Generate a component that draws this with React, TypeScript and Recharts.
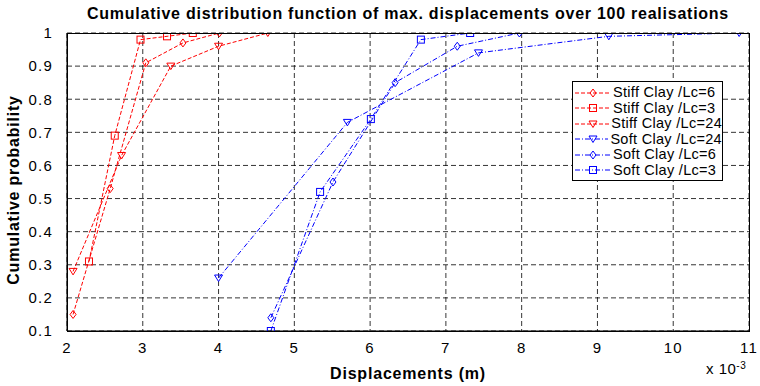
import React from 'react'
import {
  LineChart,
  Line,
  XAxis,
  YAxis,
  CartesianGrid,
} from 'recharts'

// displacement values are in units of 1e-3 m
const stiffLc6X = [2.08, 2.57, 3.04, 3.53, 4.01]
const stiffLc6Y = [0.15, 0.53, 0.91, 0.97, 1.0]

const stiffLc3X = [2.29, 2.63, 2.97, 3.32, 3.66]
const stiffLc3Y = [0.31, 0.69, 0.98, 0.99, 1.0]

const stiffLc24X = [2.08, 2.72, 3.37, 4.0, 4.65]
const stiffLc24Y = [0.28, 0.63, 0.9, 0.96, 1.0]

const softLc24X = [4.0, 5.7, 7.43, 9.15, 10.87]
const softLc24Y = [0.26, 0.73, 0.94, 0.99, 1.0]

const softLc6X = [4.69, 5.51, 6.33, 7.15, 7.97]
const softLc6Y = [0.14, 0.55, 0.85, 0.96, 1.0]

const softLc3X = [4.69, 5.34, 6.01, 6.67, 7.32]
const softLc3Y = [0.1, 0.52, 0.74, 0.98, 1.0]

const xTicks = [2, 3, 4, 5, 6, 7, 8, 9, 10, 11]
const yTicks = [0.1, 0.2, 0.3, 0.4, 0.5, 0.6, 0.7, 0.8, 0.9, 1]

const FONT = '"Liberation Sans", Arial, Helvetica, sans-serif'
const RED = '#ff0000'
const BLUE = '#0000ff'
const RED_DASH = '4 2'
const BLUE_DASH = '5 2 1 2'

type MarkerKind = 'diamond' | 'square' | 'triangle'

const zip = (xs: number[], ys: number[]) => xs.map((x, i) => ({ x, y: ys[i] }))

const series = [
  { name: 'Stiff Clay /Lc=6', data: zip(stiffLc6X, stiffLc6Y), color: RED, dash: RED_DASH, marker: 'diamond' as MarkerKind },
  { name: 'Stiff Clay /Lc=3', data: zip(stiffLc3X, stiffLc3Y), color: RED, dash: RED_DASH, marker: 'square' as MarkerKind },
  { name: 'Stiff Clay /Lc=24', data: zip(stiffLc24X, stiffLc24Y), color: RED, dash: RED_DASH, marker: 'triangle' as MarkerKind },
  { name: 'Soft Clay /Lc=24', data: zip(softLc24X, softLc24Y), color: BLUE, dash: BLUE_DASH, marker: 'triangle' as MarkerKind },
  { name: 'Soft Clay /Lc=6', data: zip(softLc6X, softLc6Y), color: BLUE, dash: BLUE_DASH, marker: 'diamond' as MarkerKind },
  { name: 'Soft Clay /Lc=3', data: zip(softLc3X, softLc3Y), color: BLUE, dash: BLUE_DASH, marker: 'square' as MarkerKind },
]

function Marker({ cx, cy, kind, color }: { cx: number; cy: number; kind: MarkerKind; color: string }) {
  if (kind === 'square') {
    return <rect x={cx - 3.5} y={cy - 3.5} width={7} height={7} fill="none" stroke={color} strokeWidth={1} />
  }
  if (kind === 'diamond') {
    return (
      <polygon
        points={`${cx},${cy - 4} ${cx + 3},${cy} ${cx},${cy + 4} ${cx - 3},${cy}`}
        fill="none"
        stroke={color}
        strokeWidth={1}
      />
    )
  }
  return (
    <polygon
      points={`${cx - 4},${cy - 3} ${cx + 4},${cy - 3} ${cx},${cy + 3.5}`}
      fill="none"
      stroke={color}
      strokeWidth={1}
    />
  )
}

function LegendBox() {
  return (
    <div
      style={{
        position: 'absolute',
        left: 572,
        top: 81,
        width: 151,
        height: 100,
        boxSizing: 'border-box',
        border: '1px solid #000',
        background: '#fff',
        padding: '3px 0 0 2px',
        fontFamily: FONT,
        fontSize: 14.5,
        letterSpacing: 0.3,
        lineHeight: '15.5px',
      }}
    >
      {series.map((s) => (
        <div key={s.name} style={{ display: 'flex', alignItems: 'center', whiteSpace: 'nowrap' }}>
          <svg width={36} height={12} style={{ marginRight: 2 }}>
            <line x1={0} y1={6} x2={36} y2={6} stroke={s.color} strokeDasharray={s.dash} />
            <Marker cx={18} cy={6} kind={s.marker} color={s.color} />
          </svg>
          <span>{s.name}</span>
        </div>
      ))}
    </div>
  )
}

const tickStyle = { fontSize: 15, fill: '#000', fontFamily: FONT, letterSpacing: 1.2 }

export default function App() {
  return (
    <div style={{ position: 'absolute', left: 0, top: 0, width: 760, height: 386, background: '#fff', fontFamily: FONT }}>
      <div
        style={{
          position: 'absolute',
          left: 0,
          width: 816,
          top: 5,
          textAlign: 'center',
          fontWeight: 'bold',
          fontSize: 16,
          letterSpacing: 0.75,
          whiteSpace: 'nowrap',
          color: '#000',
        }}
      >
        Cumulative distribution function of max. displacements over 100 realisations
      </div>
      <LineChart width={760} height={386} margin={{ top: 33, right: 11, bottom: 25, left: 0 }}>
        <CartesianGrid stroke="#000" strokeDasharray="5 3" strokeWidth={0.8} />
        <XAxis
          type="number"
          dataKey="x"
          domain={[2, 11]}
          ticks={xTicks}
          allowDataOverflow
          height={30}
          tickLine={false}
          tickMargin={5}
          axisLine={{ stroke: '#000' }}
          tick={tickStyle}
        />
        <YAxis
          type="number"
          dataKey="y"
          domain={[0.1, 1]}
          ticks={yTicks}
          allowDataOverflow
          width={67}
          tickLine={false}
          tickMargin={8}
          axisLine={{ stroke: '#000' }}
          tick={tickStyle}
          tickFormatter={(v: number) => (v === 1 ? '1' : v.toFixed(1))}
        />
        {series.map((s) => (
          <Line
            key={s.name}
            name={s.name}
            data={s.data}
            dataKey="y"
            type="linear"
            stroke={s.color}
            strokeWidth={1}
            strokeDasharray={s.dash}
            isAnimationActive={false}
            dot={(p: any) => <Marker key={`${s.name}-${p.index}`} cx={p.cx} cy={p.cy} kind={s.marker} color={s.color} />}
            activeDot={false}
          />
        ))}
      </LineChart>
      <div
        style={{
          position: 'absolute',
          left: 67,
          top: 33,
          width: 683,
          height: 299,
          border: '1px solid #000',
          boxSizing: 'border-box',
          pointerEvents: 'none',
        }}
      />
      <LegendBox />
      <div
        style={{
          position: 'absolute',
          left: 0,
          width: 816,
          top: 365,
          textAlign: 'center',
          fontWeight: 'bold',
          fontSize: 16,
          letterSpacing: 0.8,
          whiteSpace: 'nowrap',
          color: '#000',
        }}
      >
        Displacements (m)
      </div>
      <div
        style={{
          position: 'absolute',
          left: 706,
          top: 360,
          fontSize: 15,
          lineHeight: '17px',
          letterSpacing: 0.5,
          color: '#000',
          whiteSpace: 'nowrap',
        }}
      >
        x 10<span style={{ fontSize: 10, position: 'relative', top: -5 }}>-3</span>
      </div>
      <div
        style={{
          position: 'absolute',
          left: 14,
          top: 190,
          transform: 'translate(-50%, -50%) rotate(-90deg)',
          fontWeight: 'bold',
          fontSize: 16,
          letterSpacing: 0.77,
          whiteSpace: 'nowrap',
          color: '#000',
        }}
      >
        Cumulative probability
      </div>
    </div>
  )
}
